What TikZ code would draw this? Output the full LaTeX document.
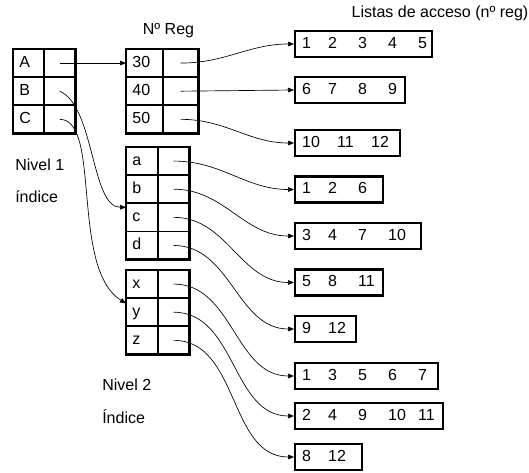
\documentclass[tikz,border=0pt]{standalone}
\usepackage{fontspec}
\setmainfont{Liberation Sans}
\usetikzlibrary{positioning,arrows.meta}
\newcommand{\regs}[1]{\leavevmode%
    \foreach \n [count=\i] in {#1}{%
        \ifnum\i=2 \hspace{19.5pt}\fi%
        \ifnum\i>2 \hspace{22.5pt}\fi%
        \rlap{\n}}}

\begin{document}
\begin{tikzpicture}[
        x=0.75pt, y=0.75pt,
        font=\fontsize{12}{14}\selectfont,
        clave/.style={
            draw,
            line width=0.6pt,
            align=left,
            text width=#1,
            inner xsep=4.5pt,
            inner ysep=0pt,
            minimum height=20.5pt,
            text height=8.6pt,
            text depth=2pt
        },
        celda/.style={draw, line width=0.6pt, inner sep=0pt, minimum width=#1, minimum height=20.5pt},
        marco/.style={line width=1.7pt},
        lista/.style={
            draw,
            line width=1.7pt,
            anchor=west,
            align=left,
            text width=#1,
            inner xsep=5.25pt,
            inner ysep=0pt,
            minimum height=19.5pt,
            text height=8.6pt,
            text depth=2pt
        },
        etiq/.style={inner sep=0pt},
        flecha/.style={-{Triangle[length=4.5pt,width=3.5pt]}, line width=0.5pt}
    ]
        \useasboundingbox (0,0) rectangle (529,472);

        \node[clave=13.5pt, anchor=north west] (kA) at (13,423) {A};
        \node[celda=23.25pt, right=0pt of kA] (pA) {};
        \node[clave=13.5pt, below=0pt of kA] (kB) {B};
        \node[celda=23.25pt, right=0pt of kB] (pB) {};
        \node[clave=13.5pt, below=0pt of kB] (kC) {C};
        \node[celda=23.25pt, right=0pt of kC] (pC) {};
        \draw[marco] (kA.north west) rectangle (pC.south east);

        \node[clave=18pt, anchor=north west] (k30) at (126,423) {30};
        \node[celda=26.25pt, right=0pt of k30] (p30) {};
        \node[clave=18pt, below=0pt of k30] (k40) {40};
        \node[celda=26.25pt, right=0pt of k40] (p40) {};
        \node[clave=18pt, below=0pt of k40] (k50) {50};
        \node[celda=26.25pt, right=0pt of k50] (p50) {};
        \draw[marco] (k30.north west) rectangle (p50.south east);

        \node[clave=14.25pt, anchor=north west] (ka) at (126,325) {a};
        \node[celda=23.25pt, right=0pt of ka] (pa) {};
        \node[clave=14.25pt, below=0pt of ka] (kb) {b};
        \node[celda=23.25pt, right=0pt of kb] (pb) {};
        \node[clave=14.25pt, below=0pt of kb] (kc) {c};
        \node[celda=23.25pt, right=0pt of kc] (pc) {};
        \node[clave=14.25pt, below=0pt of kc] (kd) {d};
        \node[celda=23.25pt, right=0pt of kd] (pd) {};
        \draw[marco] (ka.north west) rectangle (pd.south east);

        \node[clave=14.25pt, anchor=north west] (kx) at (126,202) {x};
        \node[celda=23.25pt, right=0pt of kx] (px) {};
        \node[clave=14.25pt, below=0pt of kx] (ky) {y};
        \node[celda=23.25pt, right=0pt of ky] (py) {};
        \node[clave=14.25pt, below=0pt of ky] (kz) {z};
        \node[celda=23.25pt, right=0pt of kz] (pz) {};
        \draw[marco] (kx.north west) rectangle (pz.south east);

        \node[lista=92.25pt] (l1) at (294,428) {\regs{1,2,3,4,5}};
        \node[lista=72pt] (l2) at (294,382) {\regs{6,7,8,9}};
        \node[lista=68.25pt] (l3) at (294,329) {\leavevmode\rlap{10}\hspace{26.25pt}\rlap{11}\hspace{25.5pt}\rlap{12}};
        \node[lista=55.5pt] (l4) at (294,282.5) {\regs{1,2,6}};
        \node[lista=84pt] (l5) at (294,236) {\regs{3,4,7,10}};
        \node[lista=55.5pt] (l6) at (294,189.5) {\regs{5,8,11}};
        \node[lista=35.25pt] (l7) at (294,143) {\regs{9,12}};
        \node[lista=96.75pt] (l8) at (294,96) {\regs{1,3,5,6,7}};
        \node[lista=100.5pt] (l9) at (294,56) {\regs{2,4,9,10,11}};
        \node[lista=39.75pt] (l10) at (294,15) {\regs{8,12}};

        \node[etiq, anchor=base] (nreg) at (168.5,437) {Nº Reg};
        \node[etiq, anchor=base] (listas) at (440,454.7) {Listas de acceso (nº reg)};
        \node[etiq, anchor=base west] (niv1) at (15,301) {Nivel 1};
        \node[etiq, anchor=base west] (ind1) at (15,269) {índice};
        \node[etiq, anchor=base west] (niv2) at (102,81) {Nivel 2};
        \node[etiq, anchor=base west] (ind2) at (102,49) {Índice};

        \draw[flecha] (pA.center) -- (k30.west);
        \draw[flecha] (pB.center) .. controls +(35,-15) and +(-35,0) .. ([yshift=-3pt]kc.north west);
        \draw[flecha] (pC.center) .. controls +(42,0) and +(-56,35) .. ([yshift=-4pt]kx.south west);
        \draw[flecha] (p30.center) to[out=0, in=180] (l1.west);
        \draw[flecha] (p40.center) -- (l2.west);
        \draw[flecha] (p50.center) to[out=0, in=180] (l3.west);
        \draw[flecha] (pa.center) to[out=0, in=180] (l4.west);
        \draw[flecha] (pb.center) to[out=0, in=180] (l5.west);
        \draw[flecha] (pc.center) to[out=0, in=180] (l6.west);
        \draw[flecha] (pd.center) to[out=0, in=180] (l7.west);
        \draw[flecha] (px.center) to[out=0, in=180] (l8.west);
        \draw[flecha] (py.center) to[out=0, in=180] (l9.west);
        \draw[flecha] (pz.center) to[out=0, in=180] (l10.west);
    \end{tikzpicture}
\end{document}
